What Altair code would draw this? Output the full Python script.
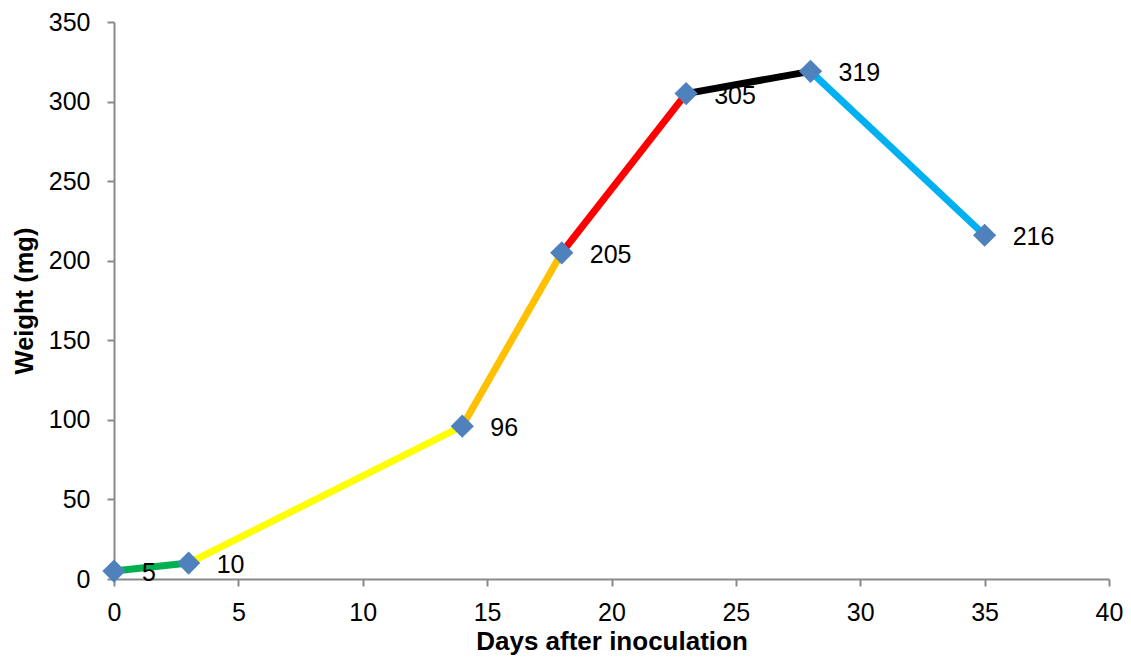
import altair as alt
import pandas as pd

days = [0, 3, 14, 18, 23, 28, 35]
weight = [5, 10, 96, 205, 305, 319, 216]
seg_colors = ["#00B050", "#FFFF00", "#FFC000", "#FF0000", "#000000", "#00B0F0"]
x_ticks = [0, 5, 10, 15, 20, 25, 30, 35, 40]
y_ticks = [0, 50, 100, 150, 200, 250, 300, 350]

pts = pd.DataFrame({"day": days, "weight": weight, "label": [str(w) for w in weight]})
segs = pd.DataFrame({
    "seg": [f"s{i}" for i in range(len(days) - 1)],
    "x": days[:-1], "y": weight[:-1],
    "x2": days[1:], "y2": weight[1:],
})

FONT = "Liberation Sans"
GRAY = "#898989"

xscale = alt.Scale(domain=[0, 40], nice=False, zero=False)
yscale = alt.Scale(domain=[0, 350], nice=False)

xaxis = alt.Axis(values=x_ticks, title="Days after inoculation", grid=False,
                 domainColor=GRAY, tickColor=GRAY, domainWidth=2, tickWidth=2, tickSize=7,
                 labelFontSize=25, labelFont=FONT, labelColor="#000000", labelPadding=14,
                 titleFont=FONT, titleFontSize=26, titleFontWeight="bold", titleColor="#000000",
                 titlePadding=3, labelFlush=False)
yaxis = alt.Axis(values=y_ticks, title="Weight (mg)", grid=False,
                 domainColor=GRAY, tickColor=GRAY, domainWidth=2, tickWidth=2, tickSize=7,
                 labelFontSize=25, labelFont=FONT, labelColor="#000000", labelPadding=17,
                 titleFont=FONT, titleFontSize=25.5, titleFontWeight="bold", titleColor="#000000",
                 titlePadding=11, labelFlush=False)

lines = alt.Chart(segs).mark_rule(strokeWidth=7).encode(
    x=alt.X("x:Q", scale=xscale, axis=xaxis),
    y=alt.Y("y:Q", scale=yscale, axis=yaxis),
    x2="x2:Q", y2="y2:Q",
    color=alt.Color("seg:N", scale=alt.Scale(domain=list(segs["seg"]), range=seg_colors), legend=None),
)

points = alt.Chart(pts).mark_point(shape="diamond", filled=True, size=540, opacity=1,
                                   color="#4F81BD").encode(
    x=alt.X("day:Q", scale=xscale),
    y=alt.Y("weight:Q", scale=yscale),
)

labels = alt.Chart(pts).mark_text(align="left", baseline="middle", dx=28, dy=2,
                                  fontSize=25, font=FONT, color="#000000").encode(
    x=alt.X("day:Q", scale=xscale),
    y=alt.Y("weight:Q", scale=yscale),
    text="label:N",
)

chart = alt.layer(lines, points, labels).properties(
    width=995, height=557,
    autosize=alt.AutoSizeParams(type="none"),
    padding={"left": 106, "top": 14, "right": 14, "bottom": 79},
    background="#ffffff",
).configure_view(stroke=None)

chart.save("out.html", embed_options={"renderer": "svg", "actions": False})
